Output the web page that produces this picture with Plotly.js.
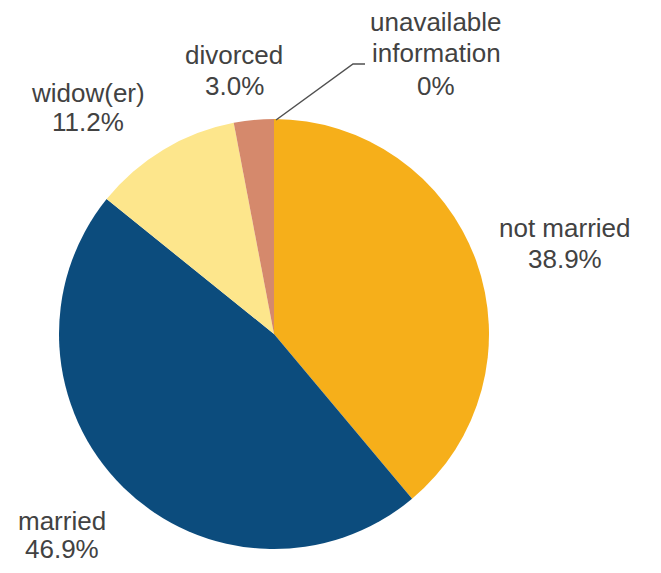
<!DOCTYPE html>
<html>
<head>
<meta charset="utf-8">
<script src="https://cdn.plot.ly/plotly-3.0.1.min.js"></script>
<style>html,body{margin:0;padding:0;background:#fff;}#chart{width:661px;height:573px;}</style>
</head>
<body>
<div id="chart"></div>
<script>
const categories = ["not married", "married", "widow(er)", "divorced", "unavailable information"];
const values = [38.9, 46.9, 11.2, 3.0, 0];
const valueLabels = ["38.9%", "46.9%", "11.2%", "3.0%", "0%"];
const labelLines = [["not married"], ["married"], ["widow(er)"], ["divorced"], ["unavailable", "information"]];
const colors = ["#F6AF1A", "#0C4C7D", "#FDE68C", "#D5896C", "#999999"];

const W = 661, H = 573;
const px = x => x / W;
const py = y => 1 - y / H;

// label layout (pixels): centre x, y of each line
const labelX = [565, 62, 88, 234, 436];
const labelY = [[228, 259], [521, 549], [93, 122], [55, 86], [22, 53, 86]];

const font = {family: "Liberation Sans, Arial, sans-serif", size: 26, color: "#424242"};

const annotations = [];
categories.forEach((c, i) => {
  const lines = labelLines[i].concat([valueLabels[i]]);
  lines.forEach((t, j) => {
    annotations.push({
      text: t, x: px(labelX[i]), y: py(labelY[i][j]), xref: "paper", yref: "paper",
      xanchor: "center", yanchor: "middle", showarrow: false, font: font, align: "center"
    });
  });
});

const trace = {
  type: "pie",
  labels: categories,
  values: values,
  sort: false,
  direction: "clockwise",
  rotation: 0,
  textinfo: "none",
  hoverinfo: "label+percent",
  marker: {colors: colors, line: {width: 0}},
  domain: {x: [px(59), px(489)], y: [py(549), py(119)]},
  showlegend: false
};

const layout = {
  width: W, height: H,
  margin: {l: 0, r: 0, t: 0, b: 0},
  paper_bgcolor: "#ffffff",
  showlegend: false,
  annotations: annotations,
  shapes: [{
    type: "path", xref: "paper", yref: "paper",
    path: `M ${px(276)},${py(120)} L ${px(353)},${py(64)} L ${px(365)},${py(64)}`,
    line: {color: "#505050", width: 1.5}
  }]
};

Plotly.newPlot("chart", [trace], layout, {displayModeBar: false, staticPlot: true});
</script>
</body>
</html>
